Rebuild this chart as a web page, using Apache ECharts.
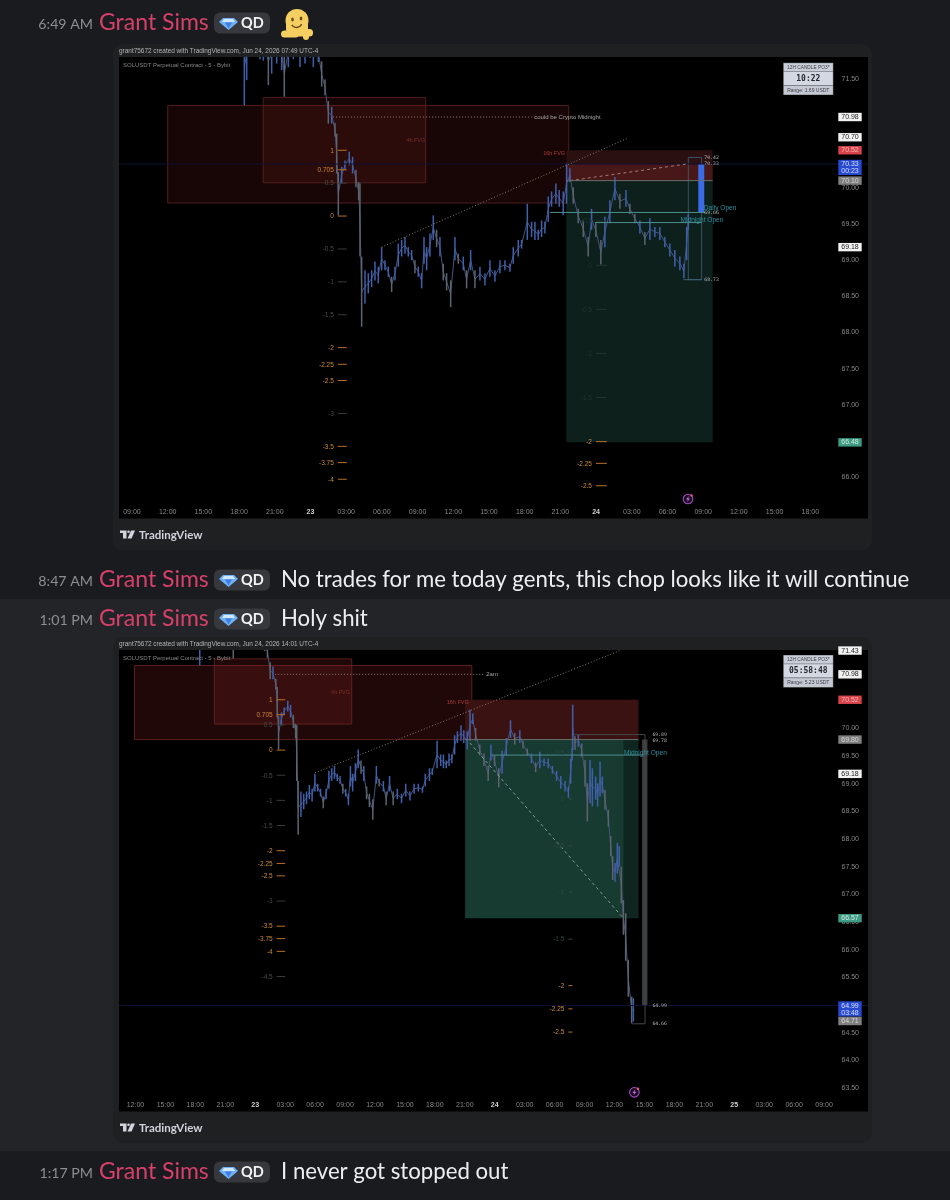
<!DOCTYPE html>
<html><head><meta charset="utf-8"><title>SOLUSDT chat</title>
<style>html,body{margin:0;padding:0;background:#1a1b1e;overflow:hidden}#c{width:950px;height:1200px;filter:blur(.35px)}</style>
<script src="https://cdn.jsdelivr.net/npm/echarts@6/dist/echarts.min.js"></script></head>
<body><div id="c"></div>
<script>
// ---------- price candles: [hour since Jun 22 00:00, low, high] ----------
const candlesEarly = [[18.44,71.14,72.2],[18.64,71.49,72.2],[19.76,71.78,72.2],[20.04,71.76,72.2],[20.46,71.42,72.1],[20.74,71.58,72.1],[21.16,71.72,72.2],[21.58,71.63,72.1],[21.80,71.26,71.9],[22.14,71.67,72.1],[22.56,71.78,72.2],[23.12,71.67,72.1],[23.54,71.72,72.1],[23.96,71.8,72.2],[24.24,71.67,72.1],[24.66,71.74,72.0],
[24.94,71.40,71.75],[25.22,71.28,71.50],[25.50,70.89,71.20],[25.78,70.89,71.12],[26.06,70.71,70.90],[26.20,70.20,70.75],[26.34,69.62,70.22],[26.62,70.06,70.29],[26.90,70.25,70.38],[27.26,70.31,70.50],[27.54,70.20,70.43],[27.82,70.01,70.25],[28.05,69.83,70.08],[28.16,69.05,70.06]];
const candlesChop = [[28.30,68.08,69.05],[28.58,68.40,68.86],[28.86,68.54,68.82],[29.14,68.63,68.86],[29.42,68.72,68.98],[29.70,68.68,68.91],[29.98,68.86,69.18],[30.26,68.86,69.00],[30.54,68.77,68.91],[30.82,68.56,68.77],[31.10,68.72,68.91],[31.38,68.91,69.23],[31.66,69.05,69.28],[31.94,69.09,69.32],[32.22,69.05,69.18],[32.50,69.00,69.14],[32.78,68.82,69.00],[33.06,68.77,68.91],[33.34,68.61,68.82],[33.54,68.95,69.32],[33.76,68.86,69.18],[34.04,69.05,69.37],[34.32,69.28,69.62],[34.60,69.18,69.42],[34.88,69.05,69.32],[35.16,68.72,68.95],[35.44,68.58,68.82],[35.78,68.35,68.72],[36.14,69.00,69.32],[36.42,68.95,69.09],[36.84,68.86,69.05],[37.12,68.61,68.86],[37.46,68.86,69.14],[37.82,68.61,68.86],[38.24,68.72,68.91],[38.66,68.65,68.82],[39.08,68.77,69.00],[39.50,68.70,68.86],[39.92,68.82,69.00],[40.34,68.86,69.00],[40.76,68.84,68.95],[41.04,68.95,69.18],[41.46,69.05,69.28],
[41.74,69.16,69.28],[42.22,69.28,69.78],[42.58,69.32,69.53],[42.86,69.28,69.53],[43.14,69.28,69.42],[43.42,69.32,69.55],[43.70,69.37,69.53],[43.98,69.53,69.88],[44.26,69.74,69.95],[44.62,69.78,70.06],[44.90,69.74,69.97],[45.24,69.62,69.95],[45.52,69.78,70.34],[45.80,70.08,70.27],[46.08,69.78,70.01],[46.50,69.51,69.71],[46.92,69.32,69.55],[47.34,69.05,69.32],[47.62,69.42,69.71],[47.98,69.32,69.51],[48.40,68.94,69.28],[48.74,69.18,69.60],[49.16,69.51,69.83],[49.58,69.83,70.15],[50.00,69.71,69.92],[50.51,69.74,69.97],[50.84,69.64,69.78],[51.26,69.51,69.64],[51.68,69.37,69.55],[52.10,69.21,69.39],[52.52,69.28,69.58],[52.94,69.32,69.46],[53.36,69.28,69.46],[53.78,69.18,69.32],[54.20,69.05,69.23],[54.62,68.91,69.14],[55.04,68.86,69.05],[55.38,68.75,68.95],[55.61,69.00,69.46],[55.75,69.42,69.64]];
const candlesLater = [[55.81,69.61,70.43],[56.04,69.61,69.86],[56.38,69.67,69.89],[56.71,69.49,69.73],[57.05,68.95,69.43],[57.28,68.32,69.01],[57.55,68.65,69.43],[57.78,68.59,69.28],[58.11,68.71,69.13],[58.31,68.59,69.01],[58.55,68.77,69.40],[58.78,68.83,69.13],[59.05,68.53,68.89],[59.38,68.23,68.53],[59.62,67.69,68.05],[59.82,67.26,67.69],[60.05,67.23,67.57],[60.28,67.38,67.93],[60.48,67.50,67.87],[60.68,66.84,67.50],[60.89,66.27,66.90],[61.12,65.80,66.66],[61.38,65.15,65.82],[61.72,64.67,65.15],[61.89,64.70,65.12]];

// ---------- axes ----------
const hoursA = [9,12,15,18,21,24,27,30,33,36,39,42,45,48,51,54,57,60,63,66];
const namesA = ['09:00','12:00','15:00','18:00','21:00','23','03:00','06:00','09:00','12:00','15:00','18:00','21:00','24','03:00','06:00','09:00','12:00','15:00','18:00'];
const hoursB = [12,15,18,21,24,27,30,33,36,39,42,45,48,51,54,57,60,63,66,69,72,75,78,81];
const namesB = ['12:00','15:00','18:00','21:00','23','03:00','06:00','09:00','12:00','15:00','18:00','21:00','24','03:00','06:00','09:00','12:00','15:00','18:00','21:00','25','03:00','06:00','09:00'];
const priceTicksA = [66,67,67.5,68,68.5,69,69.5,70,71.5];
const priceTicksB = [63.5,64,64.5,65.5,66,66.5,67,67.5,68,68.5,69,69.5,70];

// ---------- right-hand price tags: [price, text, kind, second line] ----------
const tagsA = [[70.98,'70.98','plain'],[70.70,'70.70','plain'],[70.52,'70.52','red'],[70.33,'70.33','blue','00:23'],[70.10,'70.10','gray'],[69.18,'69.18','plain'],[66.48,'66.48','green']];
const tagsB = [[71.41,'71.43','plain'],[70.98,'70.98','plain'],[70.52,'70.52','red'],[69.80,'69.80','gray'],[69.18,'69.18','plain'],[66.57,'66.57','green'],[64.99,'64.99','blue','03:48'],[64.71,'64.71','gray']];

// ---------- fib levels: [label, price] ----------
const fibMain = [['1',70.52],['0.705',70.25],['0.5',70.065],['0',69.61],['-0.5',69.155],['-1',68.70],['-1.5',68.245],['-2',67.79],['-2.25',67.56],['-2.5',67.335],['-3',66.88],['-3.5',66.425],['-3.75',66.20],['-4',65.97]];
const fibMainExtra = [['-4.5',65.515]];
const fibTargetA = [['0.5',69.54],['0',68.93],['-0.5',68.32],['-1',67.71],['-1.5',67.10],['-2',66.49],['-2.25',66.19],['-2.5',65.88]];
const fibTargetB = [['0.5',69.57],['0',68.725],['-0.5',67.88],['-1',67.04],['-1.5',66.19],['-2',65.35],['-2.25',64.93],['-2.5',64.51]];
const fibDim = ['0.5','0','-0.5','-1','-1.5','-3','-4.5'];

// ---------- zones: [h0, p0, h1, p1, kind] ----------
const zonesA = [[12.0,71.14,45.7,69.79,'fvgA'],[20.03,71.25,33.68,70.07,'fvgA'],[45.5,70.52,57.8,70.33,'fvgTopA'],[45.5,70.33,57.8,70.10,'riskA'],[45.5,70.10,57.8,66.48,'rewardA'],[55.75,70.42,56.87,68.73,'box'],[56.59,70.33,57.09,69.66,'fill']];
const zonesB = [[11.9,71.14,45.7,69.80,'fvgB'],[19.9,71.26,33.67,70.08,'fvgB'],[45.03,70.52,62.4,69.80,'riskB'],[45.03,69.80,62.4,66.57,'rewardB'],[60.89,69.80,62.4,66.57,'shade'],[62.76,69.80,63.3,64.99,'gauge']];

// ---------- lines: [h0, p0, h1, p1, kind] ----------
const linesA = [[7.91,70.33,70.85,70.33,'current'],[29.98,69.18,50.7,70.69,'trend'],[25.9,70.98,42.6,70.98,'dots'],[45.8,70.10,55.61,70.33,'plan'],[44.12,69.66,57.15,69.66,'open'],[47.9,69.52,56.9,69.52,'open'],[45.5,70.10,57.8,70.10,'edge'],[55.33,68.73,56.87,68.73,'boxEdge']];
const linesB = [[10.35,64.99,85.4,64.99,'current'],[30,69.2,60.7,71.42,'trend'],[26,70.98,47,70.98,'dots'],[45.5,69.74,60.89,66.57,'plan2'],[47.7,69.52,62.9,69.52,'open'],[45.03,69.80,62.4,69.80,'edge'],[56.04,69.89,63.06,69.89,'edge2'],[63.06,69.89,63.06,64.66,'edge2'],[61.7,64.66,63.06,64.66,'edge2']];

// ---------- notes: [h, price, text, kind] ----------
const notesA = [[33.65,70.66,'4h FVG','zoneNote'],[45.4,70.47,'16h FVG','zoneNote2'],[42.8,70.98,'could be Crypto Midnight','note'],[57.05,69.72,'Daily Open','openNote'],[55.1,69.56,'Midnight Open','openNote'],[57.1,70.42,'70.42','num'],[57.1,70.33,'70.33','num'],[57.1,69.66,'69.66','num'],[57.1,68.73,'68.73','num']];
const notesB = [[33.5,70.66,'4h FVG','zoneNote'],[45.4,70.47,'16h FVG','zoneNote2'],[47.15,70.98,'2am','note'],[60.95,69.55,'Midnight Open','openNote'],[63.8,69.89,'69.89','num'],[63.8,69.78,'69.78','num'],[63.8,64.99,'64.99','num'],[63.8,64.66,'64.66','num']];

// ---------- styles ----------
const SANS = '"Liberation Sans",Arial,sans-serif', MONO = '"DejaVu Sans Mono",monospace', UI = 'Lato,"Noto Sans",sans-serif';
const zoneStyles = {
  fvgA:{fill:'rgba(150,40,40,.16)',stroke:'#5e2424'}, fvgB:{fill:'rgba(160,40,40,.2)',stroke:'#6e2626'},
  fvgTopA:{fill:'#2a1011'}, riskA:{fill:'#481718'}, rewardA:{fill:'#0e201c'},
  riskB:{fill:'#3b1212'}, rewardB:{fill:'#173a31'}, shade:{fill:'rgba(0,0,0,.33)'},
  box:{fill:'rgba(0,0,0,0)',stroke:'#3f6176'}, fill:{fill:'#3a6ce8'}, gauge:{fill:'#3c3d3f'}
};
const lineStyles = {
  current:{stroke:'#0e1130',lineWidth:1}, trend:{stroke:'#857660',lineWidth:1,lineDash:[1,2]},
  dots:{stroke:'#8d7d70',lineWidth:1,lineDash:[1,2]}, plan:{stroke:'#a07d78',lineWidth:1,lineDash:[3,3]},
  plan2:{stroke:'#7fa08f',lineWidth:1,lineDash:[3,3]}, open:{stroke:'#4f8f90',lineWidth:1},
  edge:{stroke:'#6b6e6c',lineWidth:1}, edge2:{stroke:'#45474a',lineWidth:1}, boxEdge:{stroke:'#3f6176',lineWidth:1}
};
const noteStyles = {
  zoneNote:{fill:'#7e2e2e',font:'5.5px '+SANS,align:'right'}, zoneNote2:{fill:'#a83a3a',font:'5.5px '+SANS,align:'right'},
  note:{fill:'#a8a8a8',font:'6px '+SANS,align:'left'}, openNote:{fill:'#2f8f9e',font:'6.6px '+SANS,align:'left'},
  num:{fill:'#b8b8b8',font:'4.8px '+MONO,align:'left'}
};
const tagStyles = {plain:{bg:'#f2f2f2',fg:'#222'},red:{bg:'#d9434b',fg:'#f3b8b8'},blue:{bg:'#2749cf',fg:'#d6e0ff'},gray:{bg:'#808080',fg:'#d5d5d5'},green:{bg:'#3f9c84',fg:'#cfe9df'}};

// ---------- chrome helpers ----------
function T(x,y,text,fill,font,align,z){return {type:'text',z:z||60,style:{x,y,text,fill,font,align:align||'left',verticalAlign:'middle'}};}
function R(x,y,w,h,fill,r,z){return {type:'rect',z:z===undefined?-10:z,shape:{x,y,width:w,height:h,r:r||0},style:{fill}};}
function gem(x,y){return [
 {type:'polygon',z:60,shape:{points:[[x,y-5],[x+11,y-5],[x+15,y-1],[x+5.5,y+7],[x-4,y-1]]},style:{fill:'#6fb1f5'}},
 {type:'polygon',z:61,shape:{points:[[x+1,y-4],[x+10,y-4],[x+12,y-1],[x-1,y-1]]},style:{fill:'#cfe6fb'}},
 {type:'polygon',z:61,shape:{points:[[x+2,y-.5],[x+9,y-.5],[x+5.5,y+5.5]]},style:{fill:'#3f7fe0'}}];}
function msg(y,time,text){
  const a=[T(93,y+1,time,'#8c8e93','14.2px '+UI,'right'),T(99,y,'Grant Sims','#d8406c','23px '+UI),R(214,y-10.5,56,21,'#37383d',6,50)].concat(gem(223,y));
  a.push(T(241,y+.5,'QD','#f2f3f5','bold 14.5px '+UI));
  if(text)a.push(T(281,y,text,'#eceef0','22.2px '+UI));
  return a;
}
function panel(y,h,stamp){
  return [R(113,y,759,h,'#1f2022',10,-9),R(119,y+13,749,h-44.5,'#000',0,-8),
   T(119,y+7.5,'grant75672 created with TradingView.com, '+stamp,'#b5b5b5','6.45px '+SANS),
   T(123,y+21,'SOLUSDT Perpetual Contract - 5 - Bybit','#858585','6px '+SANS),
   {type:'polygon',z:60,shape:{points:[[120,y+h-19.5],[126.5,y+h-19.5],[126.5,y+h-11.5],[123,y+h-11.5],[123,y+h-17],[120,y+h-17]]},style:{fill:'#d1d4dc'}},
   {type:'circle',z:60,shape:{cx:128.5,cy:y+h-18.2,r:1.3},style:{fill:'#d1d4dc'}},
   {type:'polygon',z:60,shape:{points:[[131,y+h-19.5],[135,y+h-19.5],[131.5,y+h-11.5],[127.5,y+h-11.5]]},style:{fill:'#d1d4dc'}},
   T(139,y+h-15,'TradingView','#cfd2d8','bold 11.5px '+UI)];
}
function timerBox(y,timer,range){
  return [R(783.3,y,50,32.4,'#7d8188',0,40),R(783.8,y+.5,49,8,'#c9cdd8',0,41),R(783.8,y+9.3,49,13,'#d4d8e2',0,41),R(783.8,y+23.3,49,8.6,'#c4c8d2',0,41),
   T(808.3,y+4.6,'12H CANDLE PO3*','#3c3e44','4.8px '+SANS,'center',42),T(808.3,y+16,timer,'#26282e','bold 8px '+MONO,'center',42),T(808.3,y+27.8,range,'#3c3e44','5px '+SANS,'center',42)];
}
function bolt(cx,cy){
  return [{type:'circle',z:60,shape:{cx,cy,r:4.8},style:{fill:'#1b0f22',stroke:'#a64bc8',lineWidth:1.1}},
   {type:'polygon',z:61,shape:{points:[[cx+.8,cy-3],[cx-2,cy+.6],[cx-.2,cy+.6],[cx-.8,cy+3],[cx+2,cy-.6],[cx+.2,cy-.6]]},style:{fill:'#c46ae0'}},
   {type:'circle',z:61,shape:{cx:cx+3.6,cy:cy-3.6,r:1.2},style:{fill:'#e8567c'}}];
}
function melt(){
  const c='#f5cf62',d='#6a4a12';
  return [{type:'circle',z:60,shape:{cx:297,cy:20.5,r:11.5},style:{fill:c}},R(286,22,22,10,c,3,60),R(281,30.5,18,7,c,3.5,60),R(294,29,19,7.5,c,3.5,60),R(303,32,6,8,c,3,60),
   {type:'ellipse',z:61,shape:{cx:292.5,cy:19.5,rx:1.3,ry:2},style:{fill:d}},{type:'ellipse',z:61,shape:{cx:301,cy:18.5,rx:1.3,ry:2},style:{fill:d}},
   {type:'arc',z:61,shape:{cx:296.5,cy:22,r:5.5,startAngle:.35,endAngle:2.6},style:{stroke:d,lineWidth:1.4,fill:'none'}}];
}

// ---------- series ----------
function addChart(series,i,cfg){
  const base={type:'custom',xAxisIndex:i,yAxisIndex:i,silent:true,clip:true,animation:false};
  const candles=cfg.candles;
  series.push(Object.assign({},base,{z:1,data:cfg.zones.map(r=>r.slice(0,4)),renderItem(p,api){
    const r=cfg.zones[p.dataIndex],a=api.coord([r[0],r[1]]),b=api.coord([r[2],r[3]]),s=zoneStyles[r[4]];
    return {type:'rect',shape:{x:a[0],y:a[1],width:b[0]-a[0],height:b[1]-a[1]},style:{fill:s.fill,stroke:s.stroke||null,lineWidth:.8}};
  }}));
  series.push({type:'line',xAxisIndex:i,yAxisIndex:i,z:2,silent:true,showSymbol:false,animation:false,lineStyle:{color:'#44557f',width:1},
    data:candles.map(c=>[c[0],(c[1]+c[2])/2])});
  series.push(Object.assign({},base,{z:3,data:candles,renderItem(p,api){
    const c=candles[p.dataIndex],prev=candles[p.dataIndex-1],a=api.coord([c[0],c[2]]),b=api.coord([c[0],c[1]]);
    const down=prev&&(c[1]+c[2])<(prev[1]+prev[2])-.25;
    return {type:'rect',shape:{x:a[0]-.75,y:a[1],width:1.5,height:Math.max(1,b[1]-a[1])},style:{fill:down?'#5d646e':'#4060ac'}};
  }}));
  series.push(Object.assign({},base,{z:4,data:cfg.lines.map(r=>r.slice(0,4)),renderItem(p,api){
    const r=cfg.lines[p.dataIndex],a=api.coord([r[0],r[1]]),b=api.coord([r[2],r[3]]);
    return {type:'line',shape:{x1:a[0],y1:a[1],x2:b[0],y2:b[1]},style:lineStyles[r[4]]};
  }}));
  cfg.fibs.forEach(f=>{
    series.push(Object.assign({},base,{z:5,clip:false,data:f.levels.map(l=>[f.h0,l[1]]),renderItem(p,api){
      const l=f.levels[p.dataIndex],a=api.coord([f.h0,l[1]]),b=api.coord([f.h1,l[1]]);
      const dim=fibDim.includes(l[0])&&!(f.main&&l[0]==='0');
      const col=f.faint&&dim?f.faintText:(dim?'#4a4a4a':'#c98a3c');
      return {type:'group',children:[
        {type:'line',shape:{x1:a[0],y1:a[1],x2:b[0],y2:b[1]},style:{stroke:dim?(f.faint?f.faintText:'#3a3a3a'):'#b9702c',lineWidth:1}},
        {type:'text',style:{x:a[0]-4,y:a[1]+.5,text:l[0],fill:col,font:'6.5px '+SANS,align:'right',verticalAlign:'middle'}}]};
    }}));
  });
  series.push(Object.assign({},base,{z:6,clip:false,data:cfg.notes.map(r=>[r[0],r[1]]),renderItem(p,api){
    const r=cfg.notes[p.dataIndex],a=api.coord([r[0],r[1]]),s=noteStyles[r[3]];
    return {type:'text',style:{x:a[0],y:a[1],text:r[2],fill:s.fill,font:s.font,align:s.align,verticalAlign:'middle'}};
  }}));
  series.push(Object.assign({},base,{z:7,clip:false,data:cfg.tags.map(r=>[cfg.xMin,r[0]]),renderItem(p,api){
    const r=cfg.tags[p.dataIndex],a=api.coord([cfg.xMin,r[0]]),s=tagStyles[r[2]],x=838.3,w=23.4,two=!!r[3];
    const kids=[{type:'rect',shape:{x,y:a[1]-4.2,width:w,height:two?15.2:8.4},style:{fill:s.bg}},
      {type:'text',style:{x:x+w/2,y:a[1]+.2,text:r[1],fill:s.fg,font:'7px '+SANS,align:'center',verticalAlign:'middle'}}];
    if(two)kids.push({type:'text',style:{x:x+w/2,y:a[1]+7.2,text:r[3],fill:s.fg,font:'7px '+SANS,align:'center',verticalAlign:'middle'}});
    return {type:'group',children:kids};
  }}));
}

const series=[];
addChart(series,0,{xMin:7.91,candles:candlesEarly.concat(candlesChop),zones:zonesA,lines:linesA,notes:notesA,tags:tagsA,
  fibs:[{levels:fibMain,h0:26.3,h1:27.05,main:true},{levels:fibTargetA,h0:47.99,h1:48.9,faint:true,faintText:'#1f352f'}]});
addChart(series,1,{xMin:10.35,candles:candlesEarly.concat(candlesChop,candlesLater),zones:zonesB,lines:linesB,notes:notesB,tags:tagsB,
  fibs:[{levels:fibMain.concat(fibMainExtra),h0:26.15,h1:27,main:true},{levels:fibTargetB,h0:55.38,h1:55.78,faint:true,faintText:'#2a4a40'}]});

function xAxis(i,min,max,hours,names){
  return {type:'value',gridIndex:i,min,max,position:'bottom',axisLine:{show:false},axisTick:{show:false},splitLine:{show:false},
    axisLabel:{inside:true,margin:3,customValues:hours,color:'#858585',fontSize:7,fontFamily:SANS,hideOverlap:false,
      formatter:v=>{const n=names[hours.indexOf(v)];return /:/.test(n)?n:'{b|'+n+'}';},rich:{b:{fontSize:7,fontWeight:'bold',color:'#d0d0d0',fontFamily:SANS}}}};
}
function yAxis(i,min,max,ticks){
  return {type:'value',gridIndex:i,min,max,position:'right',axisLine:{show:false},axisTick:{show:false},splitLine:{show:false},
    axisLabel:{inside:true,margin:9,customValues:ticks,color:'#858585',fontSize:7,fontFamily:SANS,hideOverlap:false,formatter:v=>v.toFixed(2)}};
}

const chrome=[R(0,0,950,1200,'#1a1b1e',0,-12),R(0,599,950,552,'#232428',0,-11)]
 .concat(panel(44,506,'Jun 24, 2026 07:49 UTC-4'),panel(637,506,'Jun 24, 2026 14:01 UTC-4'))
 .concat(msg(23,'6:49 AM'),melt(),msg(580,'8:47 AM','No trades for me today gents, this chop looks like it will continue'),msg(619,'1:01 PM','Holy shit'),msg(1172,'1:17 PM','I never got stopped out'))
 .concat(timerBox(62.7,'10:22','Range: 1.69 USDT'),timerBox(655,'05:58:48','Range: 5.23 USDT'),bolt(688,499),bolt(634.4,1092.3));

const chart=echarts.init(document.getElementById('c'),null,{renderer:'canvas'});
chart.setOption({animation:false,backgroundColor:'transparent',tooltip:{show:false},legend:{show:false},
  grid:[{left:119,top:57,width:749,height:462,containLabel:false},{left:119,top:650,width:749,height:461.7,containLabel:false}],
  xAxis:[xAxis(0,7.91,70.85,hoursA,namesA),xAxis(1,10.35,85.4,hoursB,namesB)],
  yAxis:[yAxis(0,65.42,71.81,priceTicksA),yAxis(1,63.07,71.42,priceTicksB)],
  graphic:{elements:chrome},series});
</script></body></html>
